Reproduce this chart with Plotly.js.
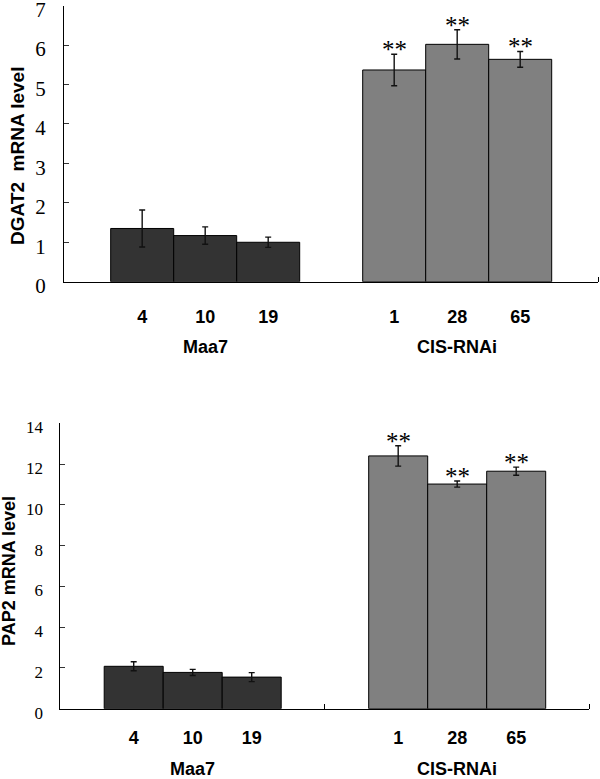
<!DOCTYPE html>
<html>
<head>
<meta charset="utf-8">
<script src="https://cdn.plot.ly/plotly-3.0.1.min.js"></script>
<style>
  html, body { margin: 0; padding: 0; background: #fff; }
  #chart { width: 600px; height: 779px; }
</style>
</head>
<body>
<div id="chart"></div>
<script>
// ---- data ----
const groupNames = ["Maa7", "CIS-RNAi"];
const strainsMaa7 = ["4", "10", "19"];
const strainsCIS = ["1", "28", "65"];

const dgat2Maa7 = [1.35, 1.17, 1.00];
const dgat2Maa7Err = [0.47, 0.22, 0.13];
const dgat2CIS = [5.37, 6.02, 5.64];
const dgat2CISErr = [0.40, 0.37, 0.20];

const pap2Maa7 = [2.08, 1.78, 1.55];
const pap2Maa7Err = [0.22, 0.15, 0.22];
const pap2CIS = [12.40, 11.02, 11.65];
const pap2CISErr = [0.50, 0.15, 0.20];

const sigMarks = ["**", "**", "**"];

const yTitleTop = "DGAT2  mRNA level";
const yTitleBottom = "PAP2 mRNA level";

// ---- layout helpers ----
const W = 600, H = 779;
const DARK = "#333333", GRAY = "#808080";
const serif = "Liberation Serif, Times New Roman, serif";
const sans = "Liberation Sans, Arial, sans-serif";

// slot positions: group g, item i, with a per-panel gap between groups
function pos(i, g, groupStep) { return 1 + i + g * groupStep; }

const panels = [
  { xa: "x", ya: "y", step: 4, xr: [-0.241, 8.235], yr: [0, 7], dtick: 1,
    vals: [dgat2Maa7, dgat2CIS], errs: [dgat2Maa7Err, dgat2CISErr],
    dom: { x: [64 / W, 598 / W], y: [1 - 281.7 / H, 1 - 5.7 / H] },
    tickFont: 21, labelStand: 19, title: yTitleTop, titleSize: 19,
    titleX: 17 / W, titleY: 1 - 156 / H, groupY: 1 - 347 / H },
  { xa: "x2", ya: "y2", step: 4.483, xr: [-0.244, 8.717], yr: [0, 14], dtick: 2,
    vals: [pap2Maa7, pap2CIS], errs: [pap2Maa7Err, pap2CISErr],
    dom: { x: [60.3 / W, 589 / W], y: [1 - 708.7 / H, 1 - 423.3 / H] },
    tickFont: 17, labelStand: 13, title: yTitleBottom, titleSize: 18,
    titleX: 9 / W, titleY: 1 - 571 / H, groupY: 1 - 769 / H }
];

const strainSets = [strainsMaa7, strainsCIS];
const colors = [DARK, GRAY];

const traces = [];
const annotations = [];
const layout = {
  width: W, height: H,
  margin: { l: 0, r: 0, t: 0, b: 0 },
  paper_bgcolor: "#fff", plot_bgcolor: "#fff",
  showlegend: false,
  bargap: 0,
  barmode: "overlay",
  annotations: annotations
};

panels.forEach((p, pi) => {
  const tickvals = [], ticktext = [];
  [0, 1].forEach(g => {
    const xs = strainSets[g].map((s, i) => pos(i, g, p.step));
    xs.forEach((x, i) => { tickvals.push(x); ticktext.push(strainSets[g][i]); });
    traces.push({
      type: "bar",
      x: xs,
      y: p.vals[g],
      width: strainSets[g].map(() => 1),
      xaxis: p.xa, yaxis: p.ya,
      name: groupNames[g],
      marker: { color: colors[g], line: { color: "#000", width: 1 } },
      error_y: { type: "data", array: p.errs[g], visible: true, color: "#111", thickness: 1.4, width: 3 },
      hoverinfo: "x+y"
    });
    // group label
    annotations.push({
      xref: p.xa, yref: "paper", x: pos(1, g, p.step), y: p.groupY,
      text: "<b>" + groupNames[g] + "</b>", showarrow: false,
      font: { family: sans, size: 18, color: "#000" }, xanchor: "center", yanchor: "middle"
    });
    // significance stars on CIS-RNAi
    if (g === 1) {
      xs.forEach((x, i) => {
        annotations.push({
          xref: p.xa, yref: p.ya, x: x, y: p.vals[g][i] + p.errs[g][i],
          text: sigMarks[i], showarrow: false, yanchor: "bottom", xanchor: "center", yshift: -11,
          font: { family: serif, size: 25, color: "#000" }
        });
      });
    }
  });

  // y-axis title
  annotations.push({
    xref: "paper", yref: "paper", x: p.titleX, y: p.titleY,
    text: "<b>" + p.title + "</b>", showarrow: false, textangle: -90,
    xanchor: "center", yanchor: "middle",
    font: { family: sans, size: p.titleSize, color: "#000" }
  });

  const axSuffix = pi === 0 ? "" : "2";
  const boundary = (pos(2, 0, p.step) + pos(0, 1, p.step)) / 2;
  const yticks = [];
  for (let v = p.yr[0]; v <= p.yr[1] + 1e-9; v += p.dtick) yticks.push(v);
  layout["xaxis" + axSuffix] = {
    domain: p.dom.x, range: p.xr, anchor: p.ya,
    showline: true, linecolor: "#000", linewidth: 1,
    showgrid: false, zeroline: false,
    tickmode: "array", tickvals: tickvals, ticktext: ticktext.map(t => "<b>" + t + "</b>"),
    ticks: "", ticklabelstandoff: p.labelStand,
    tickfont: { family: sans, size: 18, color: "#000" },
    minor: { tickmode: "array", tickvals: pi === 0 ? [p.xr[1]] : [boundary, p.xr[1]],
             ticks: "inside", ticklen: 5, tickcolor: "#000", tickwidth: 1 },
    fixedrange: true
  };
  layout["yaxis" + axSuffix] = {
    domain: p.dom.y, range: [p.yr[0], p.yr[1] + 0.0001], anchor: p.xa,
    showline: true, linecolor: "#000", linewidth: 1,
    showgrid: false, zeroline: false,
    tickmode: "array", tickvals: yticks, ticktext: yticks.map(String),
    ticks: "inside", ticklen: 5, tickcolor: "#333", tickwidth: 1,
    ticklabelstandoff: 13, ticklabelshift: 4, ticklabeloverflow: "allow",
    tickfont: { family: serif, size: p.tickFont, color: "#000" },
    fixedrange: true
  };
});

Plotly.newPlot("chart", traces, layout, { displayModeBar: false, staticPlot: true });
</script>
</body>
</html>
